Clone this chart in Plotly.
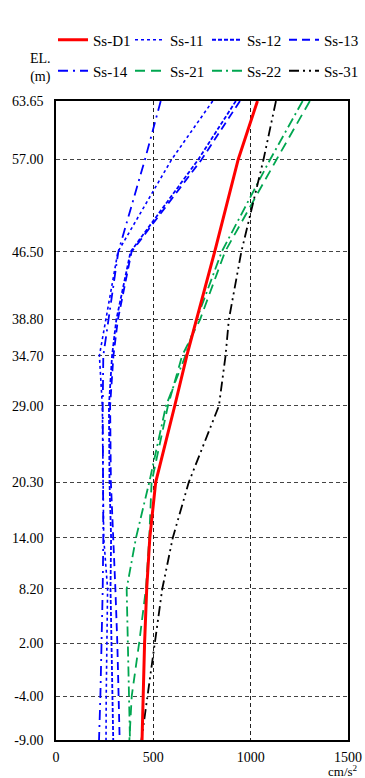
import plotly.graph_objects as go

# elevations (m)
elev = [63.65, 57.00, 46.50, 38.80, 34.70, 29.00, 20.30, 14.00, 8.20, 2.00, -4.00, -9.00]

# max acceleration (cm/s2) per wave
ss_d1 = [1035, 936, 815, 722, 672, 610, 512, 482, 466, 455, 449, 442]
ss_11 = [805, 594, 318, 258, 223, 238, 243, 245, 265, 260, 258, 257]
ss_12 = [924, 731, 383, 310, 288, 272, 275, 283, 280, 285, 290, 294]
ss_13 = [945, 748, 388, 318, 295, 278, 282, 292, 305, 315, 322, 327]
ss_14 = [538, 457, 320, 268, 243, 240, 243, 243, 240, 235, 228, 221]
ss_21 = [1304, 1133, 868, 740, 648, 575, 491, 479, 462, 427, 389, 377]
ss_22 = [1267, 1100, 851, 722, 665, 565, 479, 411, 363, 371, 375, 380]
ss_31 = [1130, 1066, 952, 888, 871, 837, 682, 600, 546, 508, 468, 439]

x_ticks = [0, 500, 1000, 1500]

FONT = "Liberation Serif"
BLUE = "#0000FF"
GREEN = "#00A650"

W, H = 365, 778

# name, values, colour, width, dash, legend slot (row, col)
series = [
    ("Ss-11", ss_11, BLUE, 1.6, "dot", (0, 1)),
    ("Ss-12", ss_12, BLUE, 1.8, "4px,2px", (0, 2)),
    ("Ss-13", ss_13, BLUE, 1.8, "8px,5px", (0, 3)),
    ("Ss-14", ss_14, BLUE, 1.8, "10px,5px,2px,5px", (1, 0)),
    ("Ss-21", ss_21, GREEN, 1.8, "10px,6px", (1, 1)),
    ("Ss-22", ss_22, GREEN, 1.8, "10px,4px,2px,4px", (1, 2)),
    ("Ss-31", ss_31, "black", 1.8, "10px,4px,2px,4px,2px,4px", (1, 3)),
    ("Ss-D1", ss_d1, "#FF0000", 3, "solid", (0, 0)),
]

fig = go.Figure()
legends = {}
for i, (name, vals, col, w, dash, (row, c)) in enumerate(series):
    key = "legend" if i == 0 else "legend%d" % (i + 1)
    fig.add_trace(go.Scatter(
        x=vals, y=elev, mode="lines", name=name,
        line=dict(color=col, width=w, dash=dash),
        legend=key, showlegend=True,
    ))
    legends[key] = dict(
        xref="container", yref="container",
        x=(53 + 77 * c) / W, y=1 - (40 + 31 * row) / H,
        xanchor="left", yanchor="middle",
        font=dict(family=FONT, size=15, color="black"),
        bgcolor="rgba(0,0,0,0)", itemwidth=30,
    )

fig.update_layout(
    width=W, height=H, showlegend=True,
    margin=dict(l=56, r=17, t=101, b=38, autoexpand=False),
    paper_bgcolor="white", plot_bgcolor="white",
    font=dict(family=FONT, size=13, color="black"),
    xaxis=dict(
        range=[0, 1500], tickvals=x_ticks, ticktext=[str(v) for v in x_ticks],
        showgrid=True, gridcolor="#222", griddash="4px,3px", gridwidth=1,
        showline=True, mirror=True, linecolor="black", linewidth=1.5,
        zeroline=False, ticks="", ticklabelstandoff=3,
        tickfont=dict(family=FONT, size=14),
    ),
    yaxis=dict(
        range=[-9, 63.65], tickvals=elev, ticktext=["%.2f" % v for v in elev],
        showgrid=True, gridcolor="#444", griddash="4px,3px", gridwidth=1,
        showline=True, mirror=True, linecolor="black", linewidth=1.5,
        zeroline=False, ticks="", ticklabelstandoff=8,
        tickfont=dict(family=FONT, size=14),
    ),
    annotations=[
        dict(text="EL.<br>(m)", xref="paper", yref="paper",
             x=-0.096, y=(740 - 68) / 639, yanchor="middle", showarrow=False,
             font=dict(family=FONT, size=14), align="center"),
        dict(text="cm/s<sup>2</sup>", xref="paper", yref="paper",
             x=1.041, y=-0.048, xanchor="right", yanchor="middle",
             showarrow=False, font=dict(family=FONT, size=13)),
    ],
    **legends,
)

# drop the page's default body margin so the figure fills the window
fig.write_html(
    "out.html",
    config={"displayModeBar": False},
    post_script="document.body.style.margin='0';document.body.style.overflow='hidden';",
)
